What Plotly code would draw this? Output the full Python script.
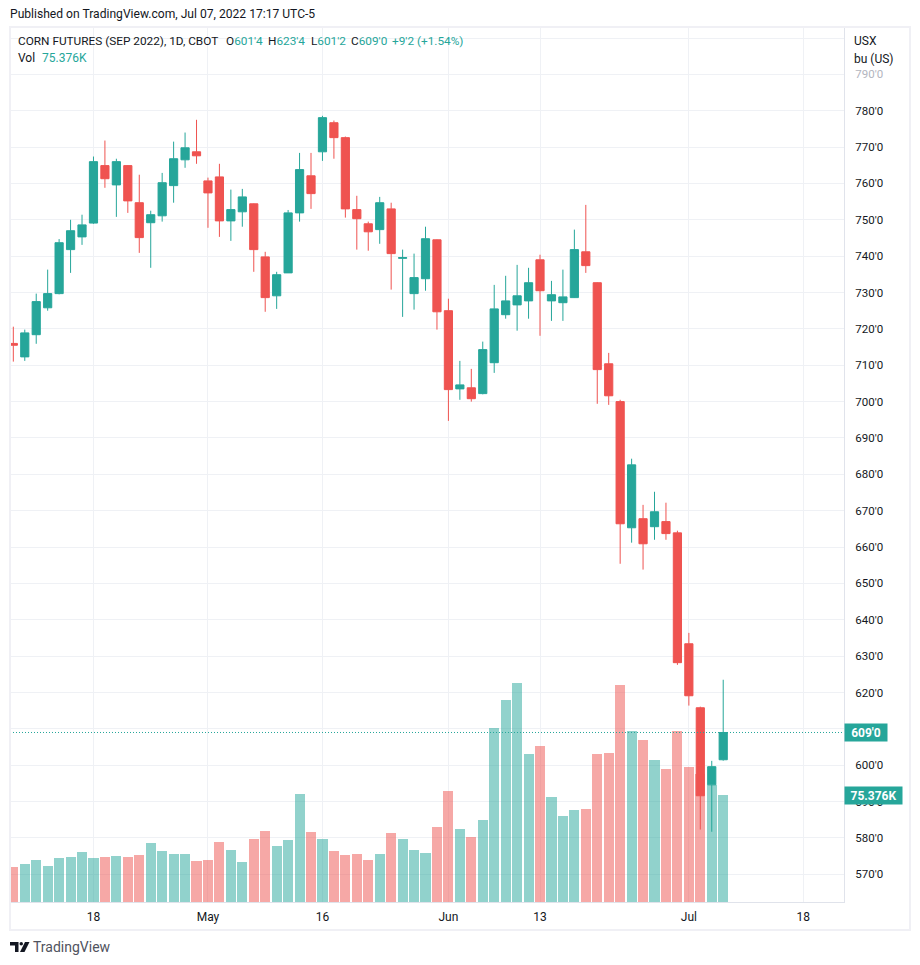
import plotly.graph_objects as go

# daily bars, Apr 6 to Jul 7 2022 (63 sessions)
opens = [716.0, 712.3, 718.4, 725.8, 729.7, 741.8, 745.3, 749.1, 764.9, 759.6, 764.9, 754.7, 749.2, 751.1, 759.4, 766.5,
         768.7, 760.7, 761.8, 749.7, 752.2, 754.4, 739.8, 729.1, 735.4, 751.9, 762.1, 768.7, 776.7, 772.6, 752.8, 748.9,
         747.3, 753.0, 739.4, 729.7, 733.8, 744.5, 725.0, 703.5, 703.8, 702.2, 710.7, 723.9, 726.6, 727.7, 739.0, 727.7,
         727.2, 728.6, 741.2, 732.7, 710.4, 700.0, 665.3, 667.8, 665.6, 667.0, 663.9, 633.4, 615.8, 594.6, 601.5]
highs = [720.6, 719.8, 729.7, 736.3, 744.7, 750.0, 751.4, 767.4, 771.8, 766.8, 765.0, 762.4, 752.5, 762.9, 771.5, 774.0,
         777.5, 761.6, 765.4, 758.3, 758.5, 754.5, 741.2, 735.7, 752.7, 768.4, 768.4, 778.6, 777.3, 772.9, 756.6, 749.5,
         756.3, 754.7, 741.8, 740.7, 748.1, 744.6, 728.3, 711.2, 709.0, 716.5, 732.1, 734.6, 737.6, 736.8, 740.4, 733.2,
         736.3, 747.3, 754.1, 732.8, 713.4, 700.5, 684.3, 671.6, 675.2, 672.2, 664.5, 636.4, 616.1, 601.2, 623.5]
lows = [711.0, 711.2, 715.9, 725.0, 729.5, 735.4, 743.1, 748.9, 758.8, 750.8, 751.9, 740.9, 736.8, 749.5, 754.7, 764.3,
        765.4, 747.8, 745.3, 744.2, 748.1, 735.7, 724.7, 725.5, 735.4, 749.5, 753.0, 766.2, 766.8, 750.6, 741.8, 741.5,
        743.4, 730.8, 723.3, 725.3, 730.5, 719.8, 694.7, 700.5, 700.0, 702.0, 707.9, 722.8, 719.5, 722.8, 718.1, 722.2,
        722.2, 728.5, 735.4, 699.4, 699.1, 655.4, 661.2, 653.8, 662.0, 662.0, 627.6, 616.4, 582.3, 581.7, 601.25]
closes = [715.5, 718.9, 727.5, 729.7, 743.7, 747.0, 748.6, 766.0, 761.3, 766.0, 755.2, 745.1, 751.4, 760.2, 766.8, 769.8,
          767.6, 757.4, 749.7, 752.8, 756.3, 741.8, 728.6, 734.9, 751.9, 763.8, 757.2, 778.1, 772.6, 753.0, 750.3, 746.7,
          754.7, 740.7, 739.6, 734.1, 744.8, 724.7, 703.3, 704.6, 700.8, 714.3, 725.5, 727.7, 729.1, 732.7, 730.5, 729.4,
          728.8, 741.8, 737.4, 708.8, 701.6, 666.4, 682.6, 660.9, 669.7, 663.7, 628.2, 619.1, 591.6, 599.6, 609.0]
# thousands of contracts
volumes = [24.7, 26.8, 29.6, 25.4, 31.0, 31.7, 35.2, 31.0, 31.7, 32.4, 31.7, 33.1, 41.6, 35.9, 33.8, 33.8,
           28.9, 29.6, 42.3, 36.6, 28.2, 44.4, 50.0, 39.4, 43.7, 76.1, 49.3, 44.4, 35.9, 33.1, 33.8, 29.6,
           33.8, 48.6, 44.4, 36.6, 34.5, 52.8, 78.2, 51.4, 45.8, 57.8, 122.6, 142.3, 154.3, 104.3, 109.9, 74.0,
           60.6, 64.8, 65.5, 104.3, 105.0, 152.9, 120.5, 114.1, 100.0, 93.7, 120.5, 95.1, 90.2, 82.4, 75.376]
bar_index = list(range(len(closes)))

# session number of each date label (no weekends or holidays on this axis)
date_ticks = [7, 17, 27, 38, 46, 59, 69]
date_labels = ["18", "May", "16", "Jun", "13", "Jul", "18"]
price_ticks = [570, 580, 590, 600, 610, 620, 630, 640, 650, 660, 670, 680, 690, 700, 710, 720, 730, 740, 750, 760, 770, 780, 790, 800]
# 610'0 sits behind the last price tag, 800'0 behind the header
price_labels = ["570'0", "580'0", "590'0", "600'0", "", "620'0", "630'0", "640'0", "650'0", "660'0", "670'0", "680'0",
                "690'0", "700'0", "710'0", "720'0", "730'0", "740'0", "750'0", "760'0", "770'0", "780'0",
                "<span style='color:#b2b5be'>790'0</span>", ""]

GREEN = "#26a69a"
RED = "#ef5350"
GRID = "#eff1f5"
BORDER = "#e0e3eb"
FRAME = "#f0f0f5"
TEXT = "#131722"
FONT = "Roboto"

W, H = 920, 965
LEFT, RIGHT, TOP, BOTTOM = 10, 844, 28, 902


def px_x(x):
    return (x - LEFT) / (RIGHT - LEFT)


def px_y(y):
    return (BOTTOM - y) / (BOTTOM - TOP)


fig = go.Figure()

vol_colors = [GREEN if c >= o else RED for o, c in zip(opens, closes)]
fig.add_trace(go.Bar(x=bar_index, y=volumes, width=0.88, marker_color=vol_colors, marker_line_width=0,
                     opacity=0.5, yaxis="y", name="Vol"))

fig.add_trace(go.Candlestick(x=bar_index, open=opens, high=highs, low=lows, close=closes, yaxis="y2",
                             increasing=dict(line=dict(color=GREEN, width=1), fillcolor=GREEN),
                             decreasing=dict(line=dict(color=RED, width=1), fillcolor=RED),
                             whiskerwidth=0, name="ZCU2022"))

fig.update_layout(
    width=W, height=H,
    margin=dict(l=LEFT, r=W - RIGHT, t=TOP, b=H - BOTTOM, pad=0),
    paper_bgcolor="white", plot_bgcolor="white",
    showlegend=False, boxgap=0.285, boxgroupgap=0, bargap=0,
    font=dict(family=FONT, size=12, color=TEXT),
    xaxis=dict(range=[-0.29, 72.55], tickmode="array", tickvals=date_ticks, ticktext=date_labels,
               showgrid=True, gridcolor=GRID, gridwidth=1, zeroline=False,
               showline=True, linecolor=BORDER, linewidth=1, ticks="", rangeslider=dict(visible=False),
               ticklabelstandoff=4),
    yaxis=dict(range=[0, 615.7], visible=False, showgrid=False, zeroline=False),
    yaxis2=dict(range=[562.38, 802.75], overlaying="y", side="right", anchor="x",
                tickmode="array", tickvals=price_ticks, ticktext=price_labels, tickfont=dict(size=11.5),
                showgrid=True, gridcolor=GRID, gridwidth=1, zeroline=False,
                showline=True, linecolor=BORDER, linewidth=1, ticks="", ticklabelstandoff=8),
)

# last price line
fig.add_shape(type="line", xref="paper", x0=0, x1=1, yref="y2", y0=closes[-1], y1=closes[-1],
              line=dict(color=GREEN, width=1, dash="1px,2px"))

# outer frame of the chart
fig.add_shape(type="rect", xref="paper", yref="paper", x0=px_x(10), x1=px_x(910), y0=px_y(930), y1=px_y(27),
              line=dict(color=FRAME, width=2), layer="above")

# logo
fig.add_shape(type="path", xref="paper", yref="paper", fillcolor=TEXT, line_width=0,
              path=f"M {px_x(10)} {px_y(942)} L {px_x(18.5)} {px_y(942)} L {px_x(18.5)} {px_y(952)} L {px_x(15)} {px_y(952)} "
                   f"L {px_x(15)} {px_y(945.5)} L {px_x(10)} {px_y(945.5)} Z")
fig.add_shape(type="path", xref="paper", yref="paper", fillcolor=TEXT, line_width=0,
              path=f"M {px_x(25)} {px_y(942)} L {px_x(29.5)} {px_y(942)} L {px_x(24.5)} {px_y(952)} L {px_x(20)} {px_y(952)} Z")
fig.add_shape(type="circle", xref="paper", yref="paper", fillcolor=TEXT, line_width=0,
              x0=px_x(19.5), x1=px_x(23), y0=px_y(945.5), y1=px_y(942))


def label(x, y, text, size=12, color=TEXT):
    # annotations keep a 2px pad on the left of the text
    fig.add_annotation(xref="paper", yref="paper", x=px_x(x - 2), y=px_y(y), text=text, showarrow=False,
                       xanchor="left", yanchor="middle", font=dict(family=FONT, size=size, color=color))


def teal(s):
    return f"<span style='color:{GREEN}'>{s}</span>"


label(10, 14, "Published on TradingView.com, Jul 07, 2022 17:17 UTC-5", size=12.1)
label(18, 41, "CORN FUTURES (SEP 2022), 1D, CBOT", size=11.8)
label(226, 41, "O" + teal("601'4"), size=11.8)
label(268.3, 41, "H" + teal("623'4"), size=11.8)
label(310.7, 41, "L" + teal("601'2"), size=11.8)
label(350.7, 41, "C" + teal("609'0"), size=11.8)
label(392.3, 41, teal("+9'2 (+1.54%)"), size=11.8)
label(18, 58, "Vol")
label(41.7, 58, teal("75.376K"))
label(854, 41, "USX")
label(854, 59, "bu (US)")
label(33, 947, "TradingView", size=14, color="#50535e")

# last value tags on the scale
fig.add_annotation(xref="paper", yref="y2", x=1, y=closes[-1], text="<b>609'0</b>", showarrow=False, xanchor="left",
                   yanchor="middle", bgcolor=GREEN, font=dict(family=FONT, size=12, color="white"),
                   width=38, height=13, borderpad=2, align="center")
fig.add_annotation(xref="paper", yref="y", x=1, y=volumes[-1], text="<b>75.376K</b>", showarrow=False, xanchor="left",
                   yanchor="middle", bgcolor=GREEN, font=dict(family=FONT, size=12, color="white"),
                   width=53, height=13, borderpad=2, align="center")

fig.write_html("out.html", config=dict(displayModeBar=False), post_script="document.body.style.margin='0';")
